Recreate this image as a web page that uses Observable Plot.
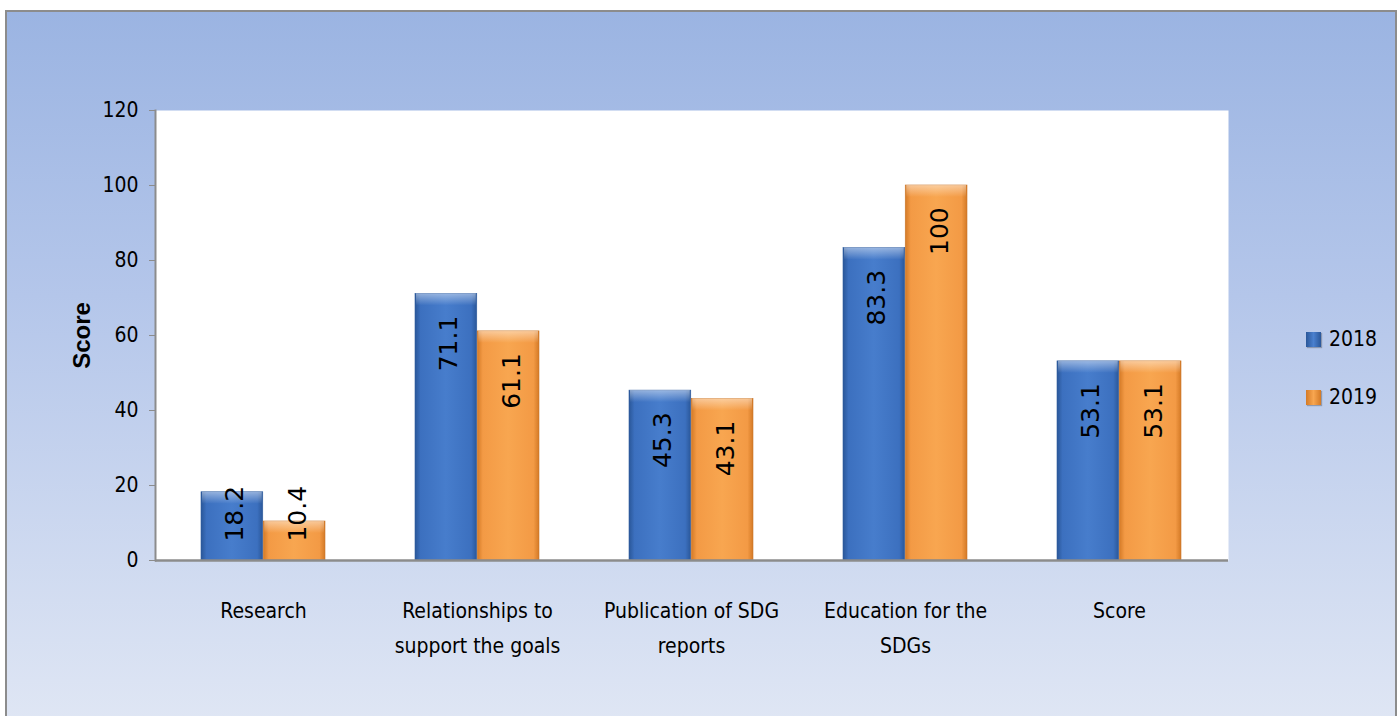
<!DOCTYPE html>
<html>
<head>
<meta charset="utf-8">
<script src="https://cdn.jsdelivr.net/npm/d3@7"></script>
<script src="https://cdn.jsdelivr.net/npm/@observablehq/plot@0.6"></script>
<style>
  html, body { margin: 0; padding: 0; background: #ffffff; }
  #wrap { position: relative; width: 1400px; height: 716px; overflow: hidden; background: #ffffff; }
  #bg { position: absolute; left: 5px; top: 10px; width: 1388px; height: 708px;
        border: 2px solid #8c8c8c; border-bottom: none;
        background: linear-gradient(to bottom, #9bb4e2 0%, #b4c6ea 40%, #dfe6f4 100%); }
  #chart { position: absolute; left: 0; top: 0; }
  .narrow { font-family: "Liberation Sans Narrow", "Arial Narrow", "DejaVu Sans Condensed", "Roboto Condensed", sans-serif; }
  .item { position: absolute; left: 1306px; height: 24px; display: flex; align-items: center; font-size: 21px; color: #000; }
  .sw { width: 15px; height: 15px; margin-right: 8px; box-shadow: 1px 1px 1px rgba(0,0,0,0.25); }
</style>
</head>
<body>
<svg width="0" height="0" style="position:absolute">
  <defs>
    <linearGradient id="gBlue" x1="0" y1="0" x2="1" y2="0">
      <stop offset="0%" stop-color="#2a5799"/>
      <stop offset="9%" stop-color="#3c70bf"/>
      <stop offset="50%" stop-color="#477dcc"/>
      <stop offset="91%" stop-color="#3c70bf"/>
      <stop offset="100%" stop-color="#2a5799"/>
    </linearGradient>
    <linearGradient id="gOrange" x1="0" y1="0" x2="1" y2="0">
      <stop offset="0%" stop-color="#d47a26"/>
      <stop offset="9%" stop-color="#f39a45"/>
      <stop offset="50%" stop-color="#f8a650"/>
      <stop offset="91%" stop-color="#f39a45"/>
      <stop offset="100%" stop-color="#d47a26"/>
    </linearGradient>
    <linearGradient id="gTop" x1="0" y1="0" x2="0" y2="1">
      <stop offset="0%" stop-color="#ffffff" stop-opacity="0.45"/>
      <stop offset="100%" stop-color="#ffffff" stop-opacity="0"/>
    </linearGradient>
  </defs>
</svg>
<div id="wrap">
  <div id="bg"></div>
  <div id="chart"></div>
  <div class="item narrow" style="top:327px"><div class="sw" style="background:linear-gradient(to right,#2a5799,#4a80cf,#2a5799)"></div>2018</div>
  <div class="item narrow" style="top:385px"><div class="sw" style="background:linear-gradient(to right,#d47a26,#f8a650,#d47a26)"></div>2019</div>
</div>
<script>
// ---- data ----
const categories = ["Research", "Relationships to support the goals", "Publication of SDG reports", "Education for the SDGs", "Score"];
const tickLabels = ["Research", "Relationships to\nsupport the goals", "Publication of SDG\nreports", "Education for the\nSDGs", "Score"];
const years = ["2018", "2019"];
const values2018 = [18.2, 71.1, 45.3, 83.3, 53.1];
const values2019 = [10.4, 61.1, 43.1, 100, 53.1];
const yTicks = [0, 20, 40, 60, 80, 100, 120];

const rows2018 = categories.map((c, i) => ({category: c, year: "2018", value: values2018[i]}));
const rows2019 = categories.map((c, i) => ({category: c, year: "2019", value: values2019[i]}));

// ---- layout ----
const W = 1400, H = 716, mL = 155, mR = 172, mT = 110, mB = 156;
const pad = 0.42;
const step = (W - mL - mR) / categories.length;
const bw = step * (1 - pad);
const half = bw / 2;
const NARROW = '"Liberation Sans Narrow", "Arial Narrow", "DejaVu Sans Condensed", "Roboto Condensed", sans-serif';
const LABELFONT = '"DejaVu Sans", Verdana, sans-serif';
// label end placed a little below the bar top, but kept clear of the baseline on short bars
const labelY = d => Math.max(d.value - 5.8, 19.9);
const bevel = d => Math.max(d.value - 3.2, 0);

const chart = Plot.plot({
  width: W, height: H,
  marginLeft: mL, marginRight: mR, marginTop: mT, marginBottom: mB,
  style: {background: "transparent", fontFamily: NARROW, fontSize: "21px", color: "#000", overflow: "visible"},
  x: {domain: categories, paddingInner: pad, paddingOuter: pad / 2},
  y: {domain: [0, 120]},
  marks: [
    Plot.frame({fill: "white", stroke: null}),
    Plot.barY(rows2018, {x: "category", y: "value", insetRight: half, fill: "url(#gBlue)", stroke: "#2f5d9e", strokeWidth: 0.6}),
    Plot.barY(rows2019, {x: "category", y: "value", insetLeft: half, fill: "url(#gOrange)", stroke: "#c9772c", strokeWidth: 0.6}),
    Plot.barY(rows2018, {x: "category", y1: bevel, y2: "value", insetRight: half + 1, insetLeft: 1, fill: "url(#gTop)"}),
    Plot.barY(rows2019, {x: "category", y1: bevel, y2: "value", insetLeft: half + 1, insetRight: 1, fill: "url(#gTop)"}),
    Plot.text(rows2018, {x: "category", y: labelY, text: d => String(d.value), rotate: -90, textAnchor: "end", lineAnchor: "middle",
      dx: -half / 2 + 3, fontFamily: LABELFONT, fontSize: 25, fill: "#000"}),
    Plot.text(rows2019, {x: "category", y: labelY, text: d => String(d.value), rotate: -90, textAnchor: "end", lineAnchor: "middle",
      dx: half / 2 + 3, fontFamily: LABELFONT, fontSize: 25, fill: "#000"}),
    Plot.frame({anchor: "left", stroke: "#8c8c8c", strokeWidth: 2}),
    Plot.ruleY([0], {stroke: "#8c8c8c", strokeWidth: 2.5}),
    Plot.axisY({ticks: yTicks, tickSize: 6, tickPadding: 11, stroke: "#8c8c8c", fill: "#000", fontSize: 21, label: null}),
    Plot.axisX({tickSize: 0, tickPadding: 33, fontSize: 21, lineHeight: 1.67, label: null,
      tickFormat: d => tickLabels[categories.indexOf(d)]}),
    Plot.text(["Score"], {frameAnchor: "left", text: d => d, rotate: -90, textAnchor: "middle", dx: -73,
      fontFamily: '"Liberation Sans", Arial, sans-serif', fontWeight: "bold", fontSize: 24, fill: "#000"})
  ]
});
document.getElementById("chart").appendChild(chart);
</script>
</body>
</html>
